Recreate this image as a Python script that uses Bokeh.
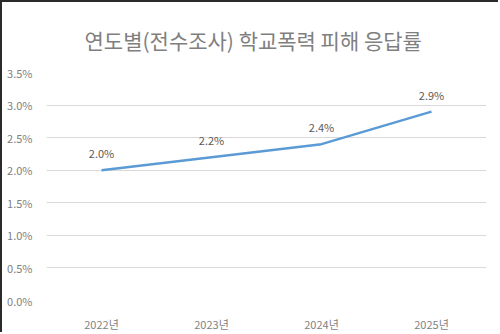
from bokeh.plotting import figure
from bokeh.models import ColumnDataSource, Range1d, NumeralTickFormatter, FixedTicker
from bokeh.embed import file_html
from bokeh.resources import INLINE

years = ["2022년", "2023년", "2024년", "2025년"]
rates = [2.0, 2.2, 2.4, 2.9]
rate_labels = ["2.0%", "2.2%", "2.4%", "2.9%"]
y_ticks = [0.0, 0.5, 1.0, 1.5, 2.0, 2.5, 3.0, 3.5]
title_text = "연도별(전수조사) 학교폭력 피해 응답률"

FONT = "Noto Sans CJK KR"
src = ColumnDataSource(dict(x=years, y=rates, lab=rate_labels))

p = figure(width=498, height=332, x_range=years, y_range=Range1d(0, 3.5),
           output_backend="svg", toolbar_location=None,
           min_border_left=44, min_border_right=14, min_border_top=70,
           min_border_bottom=27)
p.styles = {"border-left": "2px solid #2b2b2b", "border-top": "2px solid #2b2b2b"}

p.title.text = title_text
p.title.align = "left"
p.title.offset = 38
p.title.text_font = FONT
p.title.text_font_size = "21px"
p.title.text_font_style = "normal"
p.title.text_color = "#7f7f7f"
p.title.standoff = 36

p.line("x", "y", source=src, line_color="#5b9bd5", line_width=2.5)
p.text("x", "y", text="lab", source=src, text_font_size="11px",
       text_color="#595959", text_align="center", text_baseline="bottom",
       y_offset=-9, text_font={"value": FONT})

p.yaxis.ticker = FixedTicker(ticks=y_ticks)
p.yaxis.formatter = NumeralTickFormatter(format="0.0")
p.yaxis.major_label_overrides = {t: f"{t:.1f}%" for t in y_ticks}
for ax in (p.xaxis, p.yaxis):
    ax.axis_line_color = None
    ax.major_tick_line_color = None
    ax.minor_tick_line_color = None
    ax.major_label_text_font = FONT
    ax.major_label_text_font_size = "11px"
    ax.major_label_text_color = "#7f7f7f"
p.xaxis.major_label_standoff = 9
p.yaxis.major_label_standoff = 8

p.xgrid.grid_line_color = None
p.ygrid.grid_line_color = "#d9d9d9"
p.ygrid.grid_line_width = 1
p.outline_line_color = None
p.background_fill_color = "white"
p.border_fill_color = "white"

open("out.html", "w").write(file_html(p, INLINE))
